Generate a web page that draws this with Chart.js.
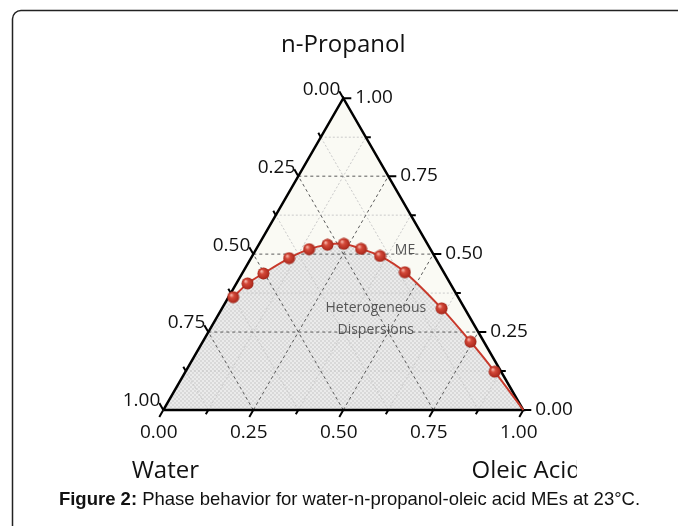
<!DOCTYPE html>
<html>
<head>
<meta charset="utf-8">
<script src="https://cdn.jsdelivr.net/npm/chart.js@4.4.1/dist/chart.umd.min.js"></script>
<style>
  html, body { margin: 0; padding: 0; background: #fff; }
  canvas { display: block; }
</style>
</head>
<body>
<canvas id="ternary" width="678" height="526"></canvas>
<script>
// axis ticks and titles
const tickValues = [0, 0.25, 0.5, 0.75, 1];
const tickLabels = ['0.00', '0.25', '0.50', '0.75', '1.00'];
const minorValues = [0.125, 0.375, 0.625, 0.875];
const axisTitles = ['Water', 'Oleic Acid', 'n-Propanol'];

// binodal curve (mass fractions), water = 1 - propanol - oleic
const propanol = [0.362, 0.406, 0.438, 0.487, 0.516, 0.530, 0.533, 0.517, 0.494, 0.442, 0.326, 0.219, 0.123, 0];
const oleic    = [0.013, 0.031, 0.059, 0.106, 0.147, 0.191, 0.235, 0.291, 0.355, 0.450, 0.610, 0.744, 0.859, 1];
const curveStart = 0.36; // propanol where the boundary meets the water side

const regionNames = ['ME', 'Heterogeneous', 'Dispersions'];
const caption = ['Figure 2:', ' Phase behavior for water-n-propanol-oleic acid MEs at 23°C.'];

const S3 = Math.sqrt(3) / 2;
function tern(o, p) { return { x: o + p / 2, y: p * S3 }; }
const GAP = { x: 0, y: null };

function gridLines(values) {
  const pts = [];
  values.forEach(t => {
    pts.push(tern(0, t), tern(1 - t, t), GAP);      // propanol = t
    pts.push(tern(t, 0), tern(t, 1 - t), GAP);      // oleic = t
    pts.push(tern(1 - t, 0), tern(0, 1 - t), GAP);  // water = t
  });
  return pts;
}

function tickMarks(values, len) {
  const L = len / 360, pts = [];
  values.forEach(t => {
    const b = tern(t, 0);
    pts.push(b, { x: b.x - 0.5 * L, y: b.y - S3 * L }, GAP);
    const r = tern(1 - t, t);
    pts.push(r, { x: r.x + L, y: r.y }, GAP);
    const l = tern(0, 1 - t);
    pts.push(l, { x: l.x - 0.5 * L, y: l.y + S3 * L }, GAP);
  });
  return pts;
}

const curve = propanol.map((p, i) => tern(oleic[i], p));
const hetero = [tern(0, 0), tern(0, curveStart), ...curve, tern(0, 0)];
const triangle = [tern(0, 0), tern(1, 0), tern(0, 1), tern(0, 0)];

// little shaded ball for the markers
function makeSphere() {
  const c = document.createElement('canvas');
  c.width = 13; c.height = 13;
  const g = c.getContext('2d');
  const grad = g.createRadialGradient(4.5, 4.2, 0.5, 6.5, 6.5, 6.5);
  grad.addColorStop(0, '#f6b2a6');
  grad.addColorStop(0.3, '#d44a3a');
  grad.addColorStop(0.8, '#b22d20');
  grad.addColorStop(1, '#8a1d12');
  g.fillStyle = grad;
  g.beginPath(); g.arc(6.5, 6.5, 6, 0, Math.PI * 2); g.fill();
  return c;
}

// fine checker fill of the two-phase region
function makeHatch() {
  const c = document.createElement('canvas');
  c.width = 4; c.height = 4;
  const g = c.getContext('2d');
  g.fillStyle = '#ebebeb'; g.fillRect(0, 0, 4, 4);
  g.fillStyle = '#d9d9d9';
  g.fillRect(0, 0, 2, 2); g.fillRect(2, 2, 2, 2);
  return g.createPattern(c, 'repeat');
}

const ternaryText = {
  id: 'ternaryText',
  afterDraw(chart) {
    const { ctx, scales: { x, y } } = chart;
    const px = pt => [x.getPixelForValue(pt.x), y.getPixelForValue(pt.y)];
    ctx.save();

    // frame
    ctx.strokeStyle = '#222';
    ctx.lineWidth = 1.5;
    ctx.beginPath();
    ctx.moveTo(12.5, 526);
    ctx.lineTo(12.5, 19);
    ctx.arcTo(12.5, 10.5, 21, 10.5, 8.5);
    ctx.lineTo(678, 10.5);
    ctx.stroke();

    // tick labels
    ctx.fillStyle = '#111';
    ctx.font = '19px "Open Sans"';
    ctx.textBaseline = 'middle';
    tickValues.forEach((t, i) => {
      let [a, b] = px(tern(0, 1 - t));
      ctx.textAlign = 'right';
      ctx.fillText(tickLabels[i], a - 3, b - 9);
      [a, b] = px(tern(1 - t, t));
      ctx.textAlign = 'left';
      ctx.fillText(tickLabels[i], a + 12, b - 0.5);
      [a, b] = px(tern(t, 0));
      ctx.textAlign = 'center';
      ctx.fillText(tickLabels[i], a - 4.5, b + 23);
    });

    // component titles
    ctx.font = '24px "Open Sans"';
    ctx.textBaseline = 'alphabetic';
    ctx.textAlign = 'center';
    let [a, b] = px(tern(0, 1));
    ctx.fillText(axisTitles[2], a, b - 46);
    [a, b] = px(tern(0, 0));
    ctx.fillText(axisTitles[0], a + 2, b + 68);
    [a, b] = px(tern(1, 0));
    ctx.save();
    ctx.beginPath(); ctx.rect(0, 0, 577, 526); ctx.clip();   // source figure cuts this title off
    ctx.fillText(axisTitles[1], a + 3, b + 68);
    ctx.restore();

    // region names
    ctx.fillStyle = '#555';
    ctx.font = '14px "Open Sans"';
    ctx.textBaseline = 'middle';
    [a, b] = px(tern(0.415, 0.513));
    ctx.fillText(regionNames[0], a, b);
    [a, b] = px(tern(0.427, 0.327));
    ctx.fillText(regionNames[1], a, b);
    [a, b] = px(tern(0.462, 0.256));
    ctx.fillText(regionNames[2], a, b);

    // caption
    ctx.fillStyle = '#111';
    ctx.textBaseline = 'alphabetic';
    ctx.textAlign = 'left';
    ctx.font = 'bold 18.5px "Liberation Sans", Arial';
    const w1 = ctx.measureText(caption[0]).width;
    ctx.font = '18.5px "Liberation Sans", Arial';
    const w2 = ctx.measureText(caption[1]).width;
    const x0 = 349.5 - (w1 + w2) / 2;
    ctx.font = 'bold 18.5px "Liberation Sans", Arial';
    ctx.fillText(caption[0], x0, 505);
    ctx.font = '18.5px "Liberation Sans", Arial';
    ctx.fillText(caption[1], x0 + w1, 505);

    ctx.restore();
  }
};

const flat = { showLine: true, pointRadius: 0, tension: 0 };

new Chart(document.getElementById('ternary'), {
  type: 'scatter',
  data: {
    datasets: [
      { ...flat, label: 'ME', data: triangle, fill: 'shape', backgroundColor: '#fafaf4', borderWidth: 0, order: 10 },
      { ...flat, label: 'Heterogeneous', data: hetero, fill: 'shape', backgroundColor: makeHatch(), borderWidth: 0, order: 9 },
      { ...flat, label: 'minor grid', data: gridLines(minorValues), borderColor: '#cacaca', borderWidth: 1, borderDash: [2, 2], order: 8 },
      { ...flat, label: 'major grid', data: gridLines([0.25, 0.5, 0.75]), borderColor: '#5a5a5a', borderWidth: 1, borderDash: [3, 3], order: 7 },
      { ...flat, label: 'frame', data: triangle, borderColor: '#000', borderWidth: 2.5, order: 6 },
      { ...flat, label: 'major ticks', data: tickMarks(tickValues, 8), borderColor: '#000', borderWidth: 2, order: 5 },
      { ...flat, label: 'minor ticks', data: tickMarks(minorValues, 5), borderColor: '#000', borderWidth: 2, order: 5 },
      {
        label: 'Binodal', data: curve, showLine: true, tension: 0.25,
        borderColor: '#c8392b', borderWidth: 2,
        pointStyle: makeSphere(),
        pointRadius: ctx => ctx.dataIndex === curve.length - 1 ? 0 : 6,
        order: 1
      }
    ]
  },
  options: {
    responsive: false,
    animation: false,
    layout: { padding: 0, autoPadding: false },
    plugins: { legend: { display: false }, tooltip: { enabled: false } },
    scales: {
      x: { type: 'linear', display: false, min: -163.3 / 360, max: (678 - 163.3) / 360 },
      y: { type: 'linear', display: false, min: -116 / 360, max: 410 / 360 }
    }
  },
  plugins: [ternaryText]
});
</script>
</body>
</html>
